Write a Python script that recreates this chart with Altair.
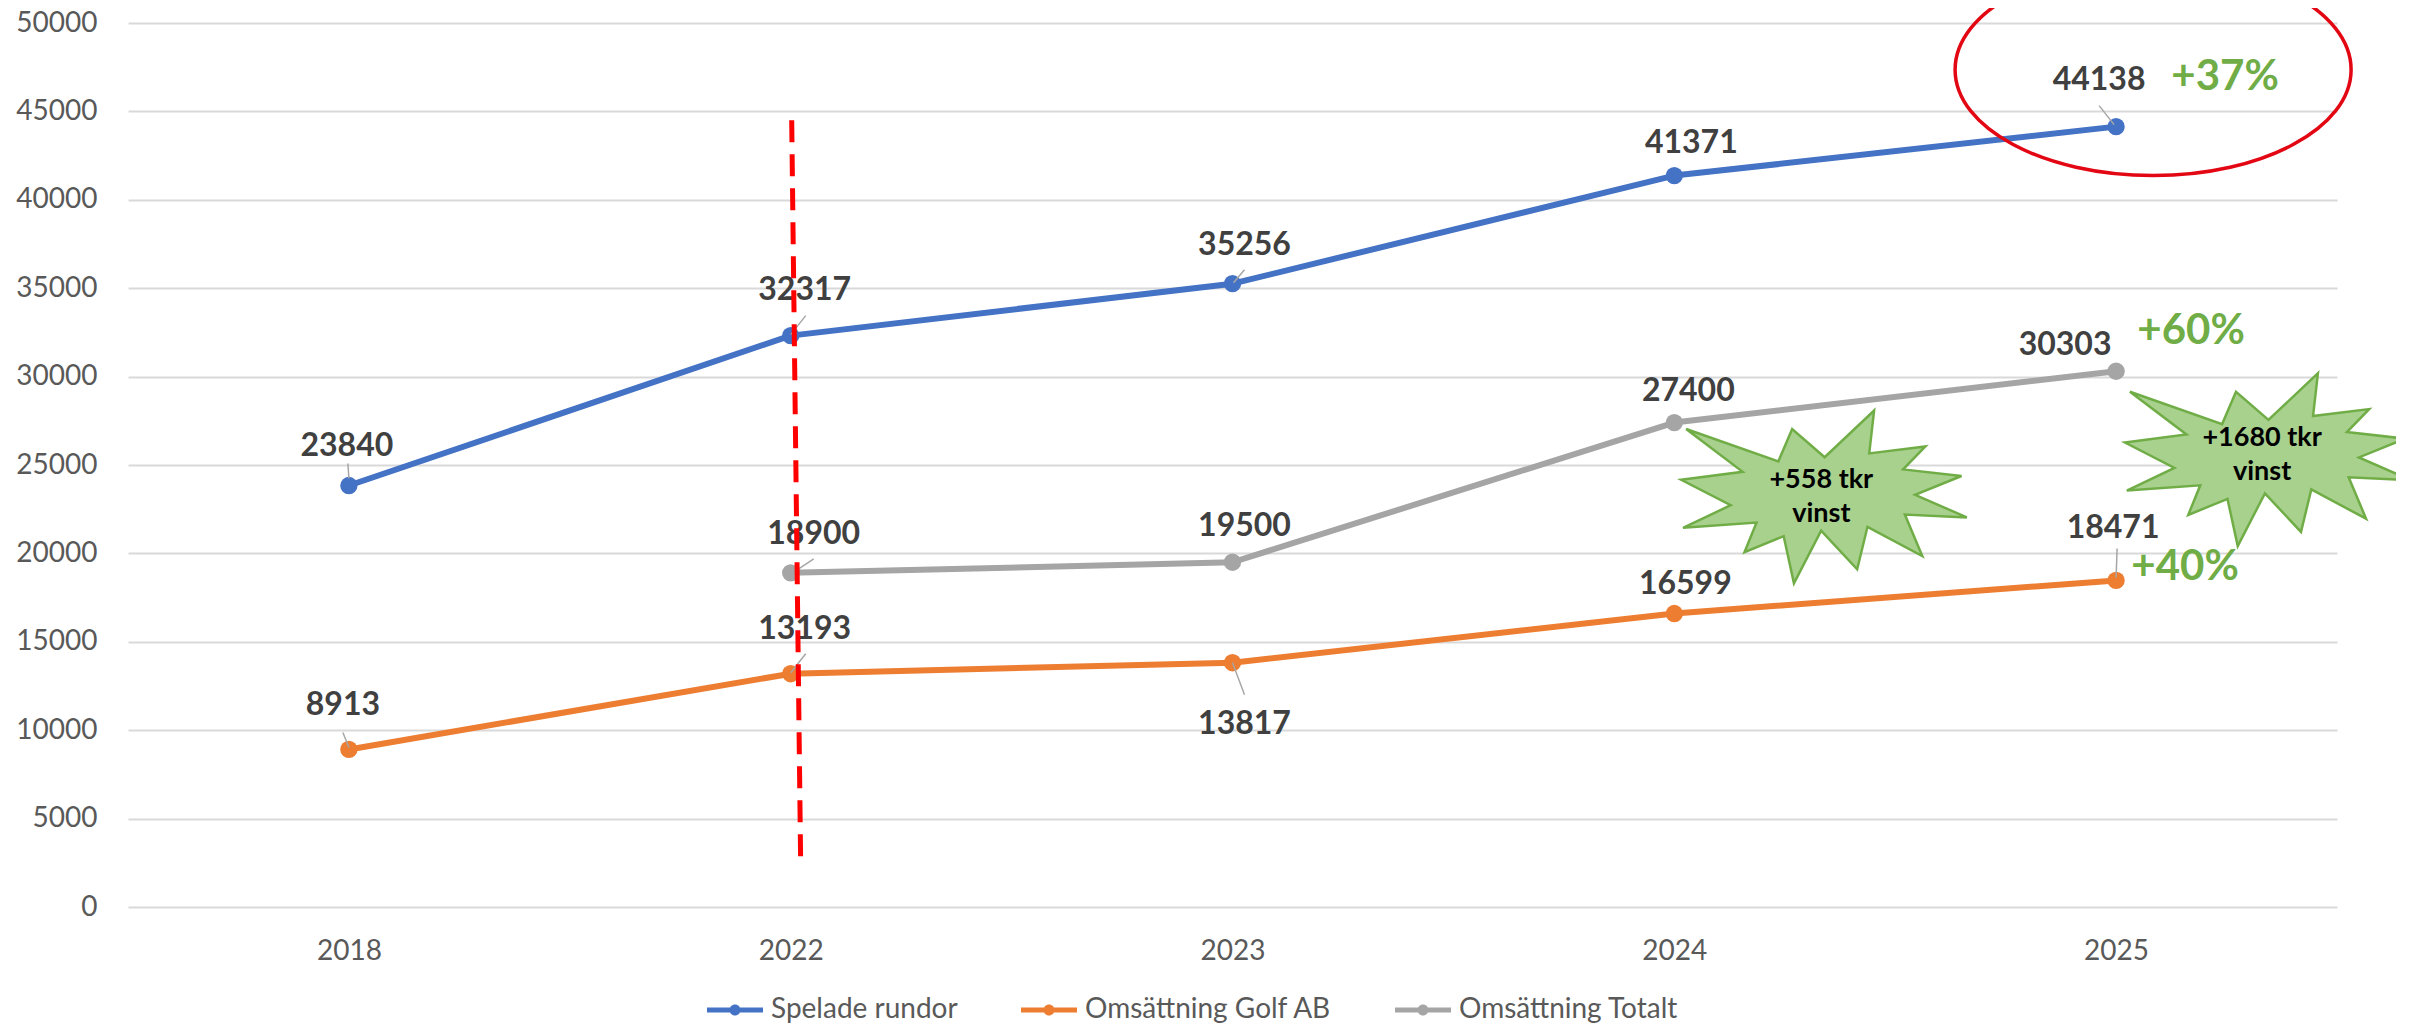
import altair as alt
import pandas as pd

# ---------------- data ----------------
years = ["2018", "2022", "2023", "2024", "2025"]
series_names = ["Spelade rundor", "Omsättning Golf AB", "Omsättning Totalt"]
spelade_rundor = [23840, 32317, 35256, 41371, 44138]
omsattning_golf_ab = [8913, 13193, 13817, 16599, 18471]
omsattning_totalt = [None, 18900, 19500, 27400, 30303]
y_ticks = [0, 5000, 10000, 15000, 20000, 25000, 30000, 35000, 40000, 45000, 50000]

growth_labels = ["+37%", "+60%", "+40%"]
growth_series = ["Spelade rundor", "Omsättning Totalt", "Omsättning Golf AB"]
growth_year = "2025"

profit_labels = ["+558 tkr\nvinst", "+1680 tkr\nvinst"]
profit_years = ["2024", "2025"]
profit_series = "Omsättning Totalt"

divider_year = "2022"
divider_span = [44500, 2300]

# ---------------- styles ----------------
series_colors = ["#4472C4", "#ED7D31", "#A5A5A5"]
FONT = "Lato"
AXIS_GREY = "#595959"
LABEL_DARK = "#404040"
GREEN = "#70AD47"

LABEL_OFFSETS = {
    ("Spelade rundor", "2018"): (-2, -40),
    ("Spelade rundor", "2022"): (14, -46),
    ("Spelade rundor", "2023"): (12, -39),
    ("Spelade rundor", "2024"): (17, -33),
    ("Spelade rundor", "2025"): (-17, -47),
    ("Omsättning Golf AB", "2018"): (-6, -44),
    ("Omsättning Golf AB", "2022"): (14, -45),
    ("Omsättning Golf AB", "2023"): (12, 61),
    ("Omsättning Golf AB", "2024"): (11, -30),
    ("Omsättning Golf AB", "2025"): (-3, -52),
    ("Omsättning Totalt", "2022"): (23, -39),
    ("Omsättning Totalt", "2023"): (12, -36),
    ("Omsättning Totalt", "2024"): (14, -32),
    ("Omsättning Totalt", "2025"): (-51, -26),
}
LEADERS = {
    ("Spelade rundor", "2018"): (-1, -22, 0, -7),
    ("Spelade rundor", "2022"): (15, -20, 0, -1),
    ("Spelade rundor", "2023"): (12, -14, 1, -1),
    ("Spelade rundor", "2025"): (-17, -21, -2, -2),
    ("Omsättning Golf AB", "2018"): (-6, -17, 0, -2),
    ("Omsättning Golf AB", "2022"): (15, -20, 0, -1),
    ("Omsättning Golf AB", "2023"): (0, 0, 12, 32),
    ("Omsättning Golf AB", "2025"): (1, -32, 0, -3),
    ("Omsättning Totalt", "2022"): (23, -14, 5, -2),
}
GROWTH_OFFSETS = [(109, -50), (75, -40), (69, -13)]
PROFIT_OFFSETS = [(149, 74), (151, 88)]
PROFIT_TEXT_OFFSETS = [(147, 57), (146, 67)]
ELLIPSE_OFFSET = (37, -57)

EXPLOSION = [(10901, 5905), (8458, 2399), (7417, 6425), (476, 2399), (4732, 7722),
             (106, 8718), (3828, 11880), (243, 14689), (5772, 14041), (4868, 17719),
             (7819, 15730), (8590, 21600), (10637, 15038), (13349, 19840), (14125, 14561),
             (18248, 18195), (16938, 13044), (21600, 13393), (17710, 10579), (21198, 8242),
             (16806, 7417), (18482, 4560), (14257, 5429), (14623, 106)]
STAR_W, STAR_ASPECT = 287, 0.605
STAR_PATH = "M" + " L".join(
    f"{(px - 10800) / 10800:.4f},{(py - 10800) / 10800 * STAR_ASPECT:.4f}" for px, py in EXPLOSION
) + " Z"
ELLIPSE_RX, ELLIPSE_ASPECT = 198, 0.535
ELLIPSE_PATH = (f"M1,0 A1,{ELLIPSE_ASPECT} 0 1,1 -1,0 "
                f"A1,{ELLIPSE_ASPECT} 0 1,1 1,0 Z")
LEGEND_SYMBOL = ("M-2.8,-0.25 L2.8,-0.25 L2.8,0.25 L-2.8,0.25 Z "
                 "M0.55,0 A0.55,0.55 0 1,1 -0.55,0 A0.55,0.55 0 1,1 0.55,0 Z")

# ---------------- tables ----------------
rows = []
for s, vals in zip(series_names, [spelade_rundor, omsattning_golf_ab, omsattning_totalt]):
    for yr, v in zip(years, vals):
        if v is not None:
            rows.append({"year": yr, "series": s, "value": v})
df = pd.DataFrame(rows)

def value_of(series, year):
    return float(df[(df.series == series) & (df.year == year)].value.iloc[0])

df_growth = pd.DataFrame({
    "year": [growth_year] * len(growth_labels),
    "series": growth_series,
    "label": growth_labels,
    "value": [value_of(s, growth_year) for s in growth_series],
})
df_profit = pd.DataFrame({
    "year": profit_years,
    "label": profit_labels,
    "value": [value_of(profit_series, y) for y in profit_years],
})
df_div = pd.DataFrame({"year": [divider_year], "top": [divider_span[0]], "bottom": [divider_span[1]]})

# ---------------- encodings ----------------
X = alt.X("year:N", sort=years,
          scale=alt.Scale(type="point", domain=years, padding=0.5),
          axis=alt.Axis(title=None, domain=False, ticks=False, grid=False, labelAngle=0,
                        labelFontSize=28, labelFont=FONT, labelColor=AXIS_GREY, labelPadding=30))
Y = alt.Y("value:Q",
          scale=alt.Scale(domain=[0, 50000], nice=False, zero=True),
          axis=alt.Axis(title=None, values=y_ticks, format="d", domain=False, ticks=False,
                        grid=True, gridColor="#D9D9D9", gridWidth=2,
                        labelFontSize=28, labelFont=FONT, labelColor=AXIS_GREY, labelPadding=31))

base = alt.Chart(df).encode(x=X, y=Y)

def filt(s, y):
    return f"datum.series == '{s}' && datum.year == '{y}'"

layers = []

# one line per series (own colour, no extra legend)
for s, c in zip(series_names, series_colors):
    layers.append(
        base.transform_filter(f"datum.series == '{s}'").mark_line(
            color=c, strokeWidth=6, strokeJoin="round", strokeCap="round")
    )

# markers carry the legend
layers.append(
    base.mark_circle(size=300, opacity=1).encode(
        color=alt.Color("series:N", scale=alt.Scale(domain=series_names, range=series_colors),
                        legend=alt.Legend(title=None, orient="none", legendX=593, legendY=973,
                                          direction="horizontal", symbolType=LEGEND_SYMBOL,
                                          symbolSize=400, symbolStrokeWidth=0, symbolOpacity=1,
                                          labelFontSize=28, labelFont=FONT, labelColor=AXIS_GREY,
                                          labelOffset=22, columnPadding=63, labelLimit=500))
    )
)

# stars
for (dx, dy), yr in zip(PROFIT_OFFSETS, profit_years):
    layers.append(
        alt.Chart(df_profit).transform_filter(f"datum.year == '{yr}'").mark_point(
            shape=STAR_PATH, size=STAR_W ** 2, filled=True, fill="#A9D18E",
            stroke=GREEN, strokeWidth=2.5, opacity=1, fillOpacity=1, strokeOpacity=1,
            xOffset=dx, yOffset=dy
        ).encode(x=X, y=Y)
    )
for (dx, dy), yr in zip(PROFIT_TEXT_OFFSETS, profit_years):
    layers.append(
        alt.Chart(df_profit).transform_filter(f"datum.year == '{yr}'").mark_text(
            font=FONT, fontSize=27, fontWeight="bold", color="#000000", lineBreak="\n",
            lineHeight=34, align="center", baseline="middle", dx=dx, dy=dy
        ).encode(x=X, y=Y, text="label:N")
    )

# leader lines
for (s, yr), (x1, y1, x2, y2) in LEADERS.items():
    layers.append(
        base.transform_filter(filt(s, yr)).mark_rule(
            color="#A6A6A6", strokeWidth=1.5, xOffset=x1, yOffset=y1, x2Offset=x2, y2Offset=y2
        ).encode(x2=alt.X2("year:N"), y2=alt.Y2("value:Q"))
    )

# data labels
for (s, yr), (dx, dy) in LABEL_OFFSETS.items():
    layers.append(
        base.transform_filter(filt(s, yr)).mark_text(
            font=FONT, fontSize=32, fontWeight="bold", color=LABEL_DARK,
            align="center", baseline="middle", dx=dx, dy=dy
        ).encode(text=alt.Text("value:Q", format="d"))
    )

# growth labels
for (dx, dy), s in zip(GROWTH_OFFSETS, growth_series):
    layers.append(
        alt.Chart(df_growth).transform_filter(f"datum.series == '{s}'").mark_text(
            font=FONT, fontSize=42, fontWeight="bold", color=GREEN,
            align="center", baseline="middle", dx=dx, dy=dy
        ).encode(x=X, y=Y, text="label:N")
    )

# red ellipse around the latest value
layers.append(
    base.transform_filter(filt("Spelade rundor", growth_year)).mark_point(
        shape=ELLIPSE_PATH, size=(2 * ELLIPSE_RX) ** 2, filled=False, stroke="#E30613",
        strokeWidth=3.5, opacity=1, strokeOpacity=1,
        xOffset=ELLIPSE_OFFSET[0], yOffset=ELLIPSE_OFFSET[1]
    )
)

# red dashed divider
layers.append(
    alt.Chart(df_div).mark_rule(
        color="#FF0000", strokeWidth=5, strokeDash=[22, 12], xOffset=1, x2Offset=10
    ).encode(x=X, y=alt.Y("top:Q", scale=alt.Scale(domain=[0, 50000], nice=False)),
             x2=alt.X2("year:N"), y2=alt.Y2("bottom:Q"))
)

chart = alt.layer(*layers).properties(
    width=2209, height=884,
    autosize=alt.AutoSizeParams(type="none"),
    padding={"left": 120, "top": 15, "right": 59, "bottom": 118},
    background="white",
).configure_view(stroke=None)

chart.save("out.html", embed_options={"renderer": "svg", "actions": False})
